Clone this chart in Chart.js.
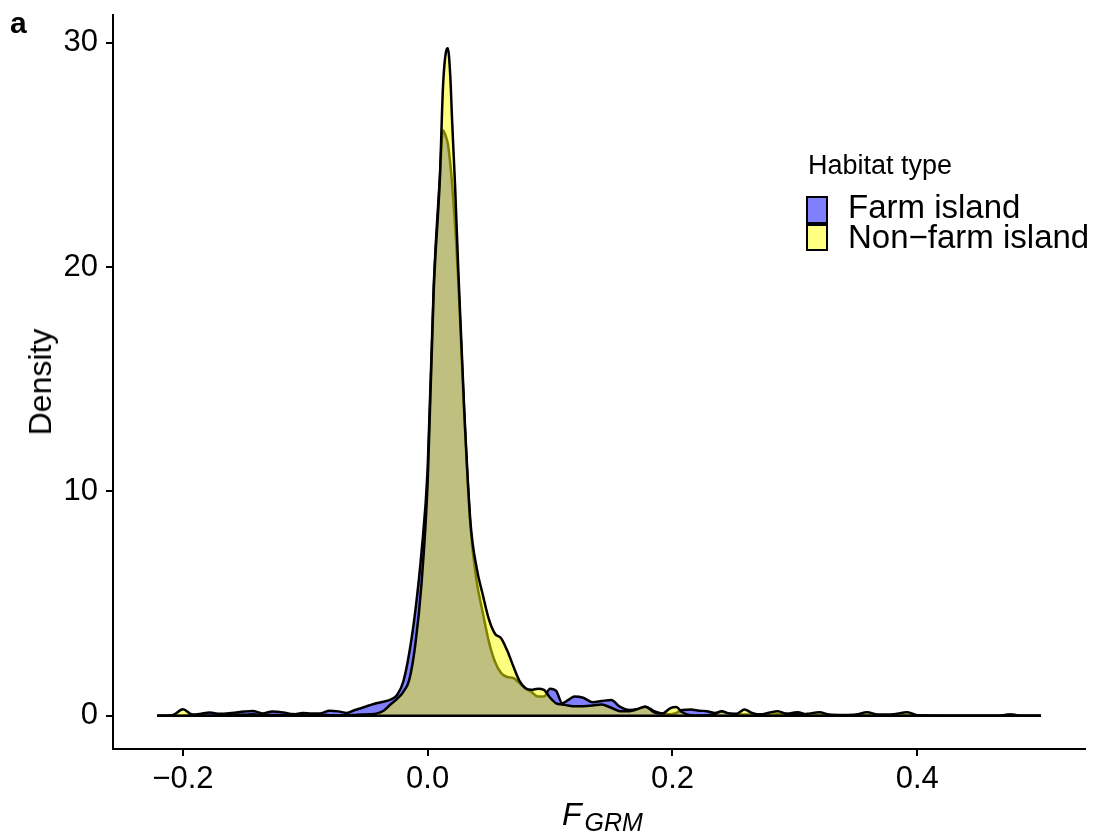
<!DOCTYPE html>
<html>
<head>
<meta charset="utf-8">
<script src="https://cdn.jsdelivr.net/npm/chart.js@4"></script>
<style>
  html, body { margin:0; padding:0; background:#fff; }
  #wrap { position:relative; width:1093px; height:837px; font-family:"Liberation Sans", Arial, Helvetica, sans-serif; color:#000; }
  #c { position:absolute; left:0; top:0; }
  .t { position:absolute; white-space:nowrap; line-height:1; }
  .key { position:absolute; box-sizing:border-box; border:2px solid #000; }
</style>
</head>
<body>
<div id="wrap">
  <canvas id="c" width="1093" height="837"></canvas>
  <div class="t" style="left:10px;top:8px;font-size:30px;font-weight:bold;">a</div>
  <div class="t" id="ytitle" style="font-size:32px;left:40px;top:382px;transform:translate(-50%,-50%) rotate(-90deg);">Density</div>
  <div class="t" id="xtitle" style="left:562px;top:798px;"><span style="font-size:32px;font-style:italic;">F</span><span style="font-size:25px;font-style:italic;position:relative;top:6px;margin-left:3px;">GRM</span></div>
  <div class="t" style="left:808px;top:152px;font-size:27px;">Habitat type</div>
  <div class="key" style="left:806px;top:196px;width:22px;height:28px;background:#8080ff;"></div>
  <div class="key" style="left:806px;top:224px;width:22px;height:27px;background:#ffff80;"></div>
  <div class="t" style="left:848px;top:190px;font-size:33px;">Farm island</div>
  <div class="t" style="left:848px;top:220px;font-size:33px;">Non−farm island</div>
</div>
<script>
// ---- data ----
const xs = [
 -0.221,-0.215,-0.208,-0.200,-0.193,-0.185,-0.178,-0.170,-0.160,-0.150,
 -0.143,-0.135,-0.127,-0.118,-0.110,-0.102,-0.095,-0.088,-0.080,-0.073,
 -0.066,-0.060,-0.054,-0.048,-0.042,-0.036,-0.030,-0.025,-0.020,-0.015,
 -0.010,-0.005, 0.000, 0.005, 0.010, 0.0125,0.015, 0.0165,0.0185,0.020,
  0.0225,0.025, 0.030, 0.035, 0.040, 0.045, 0.050, 0.055, 0.060, 0.065,
  0.070, 0.075, 0.080, 0.085, 0.090, 0.095, 0.100, 0.105, 0.110, 0.115,
  0.120, 0.127, 0.135, 0.142, 0.150, 0.157, 0.165, 0.172, 0.178, 0.185,
  0.192, 0.198, 0.203, 0.208, 0.215, 0.222, 0.228, 0.235, 0.240, 0.246,
  0.252, 0.259, 0.265, 0.272, 0.279, 0.286, 0.293, 0.302, 0.310, 0.320,
  0.328, 0.340, 0.350, 0.359, 0.368, 0.378, 0.392, 0.400, 0.420, 0.450,
  0.468, 0.476, 0.484, 0.501
];
const farmIsland = [
  0.00, 0.00, 0.00, 0.00, 0.02, 0.09, 0.14, 0.08, 0.12, 0.18,
  0.21, 0.10, 0.18, 0.14, 0.06, 0.12, 0.09, 0.10, 0.22, 0.19,
  0.12, 0.24, 0.34, 0.45, 0.55, 0.62, 0.72, 0.92, 1.50, 2.80,
  4.70, 7.30, 11.0, 19.2, 24.0, 26.1, 25.8, 25.5, 24.6, 23.7,
  21.8, 19.4, 13.3, 8.4, 6.0, 4.6, 3.3, 2.4, 1.9, 1.72,
  1.68, 1.45, 1.20, 1.05, 0.85, 0.85, 1.20, 1.10, 0.55, 0.70,
  0.85, 0.80, 0.60, 0.65, 0.70, 0.40, 0.25, 0.30, 0.40, 0.20,
  0.08, 0.06, 0.12, 0.25, 0.27, 0.22, 0.20, 0.12, 0.18, 0.10,
  0.06, 0.05, 0.05, 0.05, 0.05, 0.06, 0.08, 0.15, 0.05, 0.03,
  0.02, 0.02, 0.02, 0.02, 0.02, 0.02, 0.02, 0.01, 0.00, 0.00,
  0.00, 0.05, 0.00, 0.00
];
const nonFarmIsland = [
  0.00, 0.00, 0.03, 0.28, 0.06, 0.00, 0.00, 0.01, 0.05, 0.04,
  0.06, 0.02, 0.03, 0.02, 0.07, 0.02, 0.01, 0.03, 0.02, 0.01,
  0.02, 0.03, 0.05, 0.06, 0.09, 0.22, 0.52, 0.75, 1.05, 1.60,
  3.20, 5.90, 10.4, 19.0, 24.0, 28.0, 29.6, 29.75,28.5, 26.5,
  23.5, 19.9, 13.5, 8.6, 6.6, 5.4, 4.3, 3.65, 3.45, 2.90,
  2.20, 1.55, 1.22, 1.15, 1.20, 1.15, 0.80, 0.55, 0.50, 0.45,
  0.42, 0.42, 0.45, 0.50, 0.35, 0.20, 0.20, 0.30, 0.40, 0.15,
  0.10, 0.32, 0.38, 0.15, 0.02, 0.01, 0.02, 0.08, 0.20, 0.10,
  0.08, 0.27, 0.12, 0.05, 0.13, 0.20, 0.08, 0.05, 0.08, 0.15,
  0.05, 0.03, 0.05, 0.15, 0.05, 0.05, 0.15, 0.02, 0.00, 0.00,
  0.00, 0.05, 0.00, 0.00
];
const xTickValues = [-0.2, 0.0, 0.2, 0.4];
const xTickLabels = ['−0.2', '0.0', '0.2', '0.4'];
const yTickValues = [0, 10, 20, 30];
const yTickLabels = ['0', '10', '20', '30'];
const seriesNames = ['Farm island', 'Non−farm island'];

// ggplot-style 5% expansion of the data range
const xMin = Math.min(...xs), xMax = Math.max(...xs);
const xPad = (xMax - xMin) * 0.05;
const yMaxData = Math.max(...farmIsland, ...nonFarmIsland);
const yPad = yMaxData * 0.05;

const FONT = '"Liberation Sans", Arial, Helvetica, sans-serif';
const pts = arr => xs.map((x, i) => ({ x: x, y: arr[i] }));

new Chart(document.getElementById('c'), {
  type: 'line',
  data: {
    datasets: [
      {
        label: seriesNames[1], data: pts(nonFarmIsland), order: 1,
        borderColor: '#000', borderWidth: 2.5, backgroundColor: 'rgba(255,255,0,0.5)',
        fill: 'origin', pointRadius: 0, cubicInterpolationMode: 'monotone'
      },
      {
        label: seriesNames[0], data: pts(farmIsland), order: 2,
        borderColor: '#000', borderWidth: 2.5, backgroundColor: 'rgba(0,0,255,0.5)',
        fill: 'origin', pointRadius: 0, cubicInterpolationMode: 'monotone'
      },
      {
        label: 'base', data: [{ x: xMin, y: 0 }, { x: xMax, y: 0 }], order: 0,
        borderColor: '#000', borderWidth: 2.5, fill: false, pointRadius: 0
      }
    ]
  },
  options: {
    responsive: false, animation: false, devicePixelRatio: 1,
    layout: { padding: { top: 15, right: 8, left: 0, bottom: 0 } },
    plugins: {
      legend: { display: false }, tooltip: { enabled: false },
      filler: { drawTime: 'beforeDatasetDraw' }
    },
    scales: {
      x: {
        type: 'linear', min: xMin - xPad, max: xMax + xPad,
        afterBuildTicks: s => { s.ticks = xTickValues.map(v => ({ value: v })); },
        afterFit: s => { s.height = 88; s.paddingLeft = 0; s.paddingRight = 0; },
        ticks: {
          callback: (v) => { const i = xTickValues.findIndex(t => Math.abs(t - v) < 1e-9); return i >= 0 ? xTickLabels[i] : ''; },
          font: { family: FONT, size: 31 }, color: '#000', padding: 5, maxRotation: 0, autoSkip: false
        },
        grid: { display: true, drawOnChartArea: false, drawTicks: true, tickLength: 7, color: '#000', lineWidth: 2 },
        border: { display: true, color: '#000', width: 2 }
      },
      y: {
        type: 'linear', min: -yPad, max: yMaxData + yPad,
        afterBuildTicks: s => { s.ticks = yTickValues.map(v => ({ value: v })); },
        afterFit: s => { s.width = 113; s.paddingTop = 0; s.paddingBottom = 0; },
        ticks: {
          callback: (v) => { const i = yTickValues.indexOf(v); return i >= 0 ? yTickLabels[i] : ''; },
          font: { family: FONT, size: 31 }, color: '#000', padding: 8, autoSkip: false
        },
        grid: { display: true, drawOnChartArea: false, drawTicks: true, tickLength: 7, color: '#000', lineWidth: 2 },
        border: { display: true, color: '#000', width: 2 }
      }
    }
  }
});
</script>
</body>
</html>
